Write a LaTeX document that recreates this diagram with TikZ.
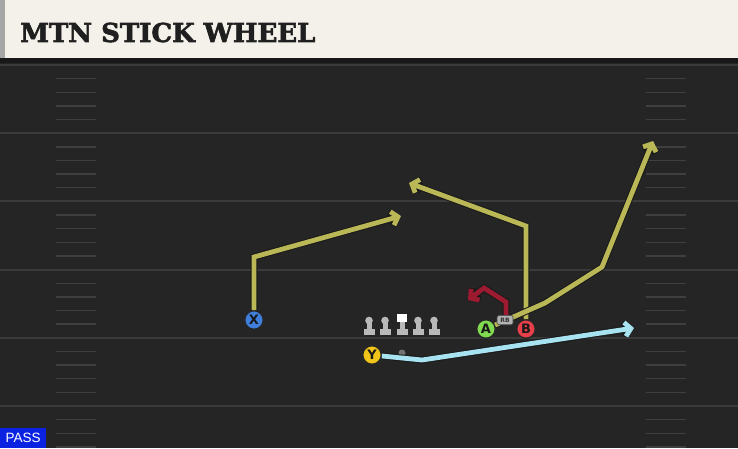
\documentclass[tikz,border=0pt]{standalone}
\usepackage{fontspec}
\setmainfont{DejaVu Sans}
\newfontfamily\titlefont[FakeBold=2.2]{DejaVu Serif Bold}
\newfontfamily\passfont{Liberation Sans}
\usetikzlibrary{arrows.meta}

\definecolor{fieldbg}{HTML}{252525}
\definecolor{titlebg}{HTML}{F4F1EA}
\definecolor{bandbg}{HTML}{181818}
\definecolor{yardgrey}{HTML}{3B3B3B}
\definecolor{hashgrey}{HTML}{3F3F3F}
\definecolor{routeyellow}{HTML}{BAB756}
\definecolor{routered}{HTML}{9C1B31}
\definecolor{routeblue}{HTML}{A8E3F1}
\definecolor{xblue}{HTML}{3F7FDB}
\definecolor{yyellow}{HTML}{F0C419}
\definecolor{agreen}{HTML}{7FDA4F}
\definecolor{bred}{HTML}{E8404A}
\definecolor{linegrey}{HTML}{B9B9B9}
\definecolor{passblue}{HTML}{0C22E3}

\begin{document}
\begin{tikzpicture}[x=1pt,y=-1pt,
    route/.style={line width=4.8pt,
        preaction={draw=black!90,line width=6.8pt,-{Straight Barb[length=6pt,width=14pt]}},
        -{Straight Barb[length=6pt,width=14pt]}},
    player/.style={circle,draw=black!85,line width=1.3pt,minimum size=18.5pt,inner sep=0pt,
        font=\bfseries\fontsize{13}{13}\selectfont,text=black!90},
    yardline/.style={draw=yardgrey,line width=2pt},
    hashmark/.style={draw=hashgrey,line width=1.4pt}]
    \useasboundingbox (0,0) rectangle (738,448);
    % field and title bar
    \fill[fieldbg] (0,0) rectangle (738,448);
    \fill[titlebg] (0,0) rectangle (738,58);
    \fill[black!35] (0,0) rectangle (5,58);
    \fill[bandbg] (0,58) rectangle (738,63);
    \node[anchor=west,inner sep=0pt,text=black!88,
        font=\titlefont\fontsize{26}{26}\selectfont] (title) at (20,32.5) {MTN STICK WHEEL};
    % yard lines and hashes
    \foreach \k in {0,...,5} {
        \draw[yardline] (0,65+68.2*\k) -- (738,65+68.2*\k);
        \foreach \j in {1,...,4} {
            \draw[hashmark] (56,65+68.2*\k+13.64*\j) -- (96,65+68.2*\k+13.64*\j);
            \draw[hashmark] (646,65+68.2*\k+13.64*\j) -- (686,65+68.2*\k+13.64*\j);
        }
    }

    % players
    \node (X) at (254,320) [player,fill=xblue] {X};
    \node (Y) at (372,355) [player,fill=yyellow] {Y};
    \node (A) at (486,329) [player,fill=agreen] {A};
    \node (B) at (526,329) [player,fill=bred] {B};
    \node (ball) at (402,353) [circle,fill=black!55,inner sep=0pt,minimum size=7pt] {};

    % route points
    \coordinate (x1) at (254,257);
    \coordinate (x2) at (401,216);
    \coordinate (b1) at (526,226);
    \coordinate (b2) at (409,183);
    \coordinate (a1) at (545,303);
    \coordinate (a2) at (602,267);
    \coordinate (a3) at (653,141);
    \coordinate (r1) at (506,302);
    \coordinate (r2) at (484,288);
    \coordinate (r3) at (468,300);
    \coordinate (y1) at (422,360);
    \coordinate (y2) at (634,328);

    % routes
    \draw[route,routeyellow] (X) -- (x1) -- (x2);
    \draw[route,routeyellow] (B) -- (b1) -- (b2);
    \draw[route,routeyellow] (A) -- (a1) -- (a2) -- (a3);
    \draw[route,routeblue] (Y) -- (y1) -- (y2);

    % running back
    \node (RB) at (505,320) [rounded corners=1.5pt,fill=black!30,draw=black!75,line width=0.7pt,
        minimum width=16pt,minimum height=9.5pt,inner sep=0pt,
        font=\bfseries\fontsize{6}{6}\selectfont,text=black!80] {RB};
    \draw[route,routered] (RB.north -| r1) -- (r1) -- (r2) -- (r3);

    % offensive line
    \foreach \x in {369,385,418,434} {
        \fill[linegrey] (\x,320.5) circle (3.8);
        \fill[linegrey] (\x-2.5,322) rectangle (\x+2.5,329);
        \fill[linegrey] (\x-5.5,328.5) rectangle (\x+5.5,334.5);
    }
    \fill[white] (397,313.5) rectangle (407,322);
    \fill[linegrey] (399.5,322) rectangle (404.5,329);
    \fill[linegrey] (396.5,328.5) rectangle (407.5,334.5);

    % play type
    \node (pass) at (0,448) [anchor=south west,fill=passblue,text=white,inner sep=0pt,
        minimum width=46pt,minimum height=20pt,
        font=\passfont\fontsize{13.5}{13.5}\selectfont] {PASS};
\end{tikzpicture}
\end{document}
